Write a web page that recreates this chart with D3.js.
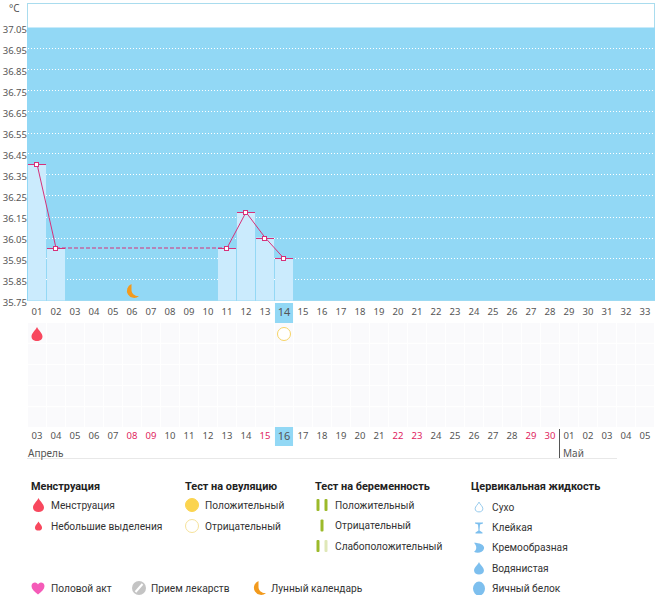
<!DOCTYPE html>
<html>
<head>
    <meta charset="utf-8">
    <title>График БТТ</title>
    <script src="https://d3js.org/d3.v7.min.js"></script>
    <style>
        body { margin: 0; background: #fff; }
        svg { display: block; }
        .axis text { font-family: "Noto Sans", sans-serif; font-size: 9.5px; fill: #555; }
        .legend text { font-family: Roboto, "Noto Sans", sans-serif; font-size: 10.2px; fill: #333; }
        .legend text.title { font-weight: 700; font-size: 10.9px; fill: #222; }
        .month { font-family: "Noto Sans", sans-serif; font-size: 10px; fill: #555; }
    </style>
</head>
<body>
    <svg id="chart" width="663" height="595"></svg>
    <script>
        // Chart data
        const cycleDays = d3.range(1, 34).map(d => String(d).padStart(2, "0"));
        const temps = [36.40, 36.00, null, null, null, null, null, null, null, null, 36.00, 36.17, 36.05, 35.95];
        const tempTicks = [37.05, 36.95, 36.85, 36.75, 36.65, 36.55, 36.45, 36.35, 36.25, 36.15, 36.05, 35.95, 35.85, 35.75];
        const dates = ["03","04","05","06","07","08","09","10","11","12","13","14","15","16","17","18","19","20","21","22","23","24","25","26","27","28","29","30","01","02","03","04","05"];
        const weekendIdx = [5, 6, 12, 19, 20, 26, 27];
        const todayIdx = 13;
        const moonIdx = 5;
        const menstruationIdx = 0;
        const ovulationNegIdx = 13;
        const gridRows = [0, 1, 2, 3, 4];

        const menstruationItems = ["Менструация", "Небольшие выделения"];
        const ovulationItems = ["Положительный", "Отрицательный"];
        const pregnancyItems = ["Положительный", "Отрицательный", "Слабоположительный"];
        const fluidItems = ["Сухо", "Клейкая", "Кремообразная", "Водянистая", "Яичный белок"];
        const otherItems = ["Половой акт", "Прием лекарств", "Лунный календарь"];

        const svg = d3.select("#chart");

        const x = d3.scaleBand().domain(d3.range(33)).range([27.5, 654.5]).paddingInner(0.05).paddingOuter(0.025);
        const y = d3.scaleLinear().domain([35.75, 37.05]).range([300.5, 27.5]);
        const cx = i => x(i) + x.bandwidth() / 2;

        // plot background
        svg.append("rect").attr("x", 27.5).attr("y", 3.5).attr("width", 627).attr("height", 297)
            .attr("fill", "#fff").attr("stroke", "#a9dcee");
        svg.append("rect").attr("x", 27).attr("y", y(37.05)).attr("width", 628).attr("height", y(35.75) - y(37.05))
            .attr("fill", "#92d8f5");

        // dotted grid
        svg.append("g").selectAll("line")
            .data(tempTicks.filter(t => t !== 37.05 && t !== 35.75))
            .enter().append("line")
            .attr("x1", 28).attr("x2", 654)
            .attr("y1", d => Math.round(y(d)) + 0.5).attr("y2", d => Math.round(y(d)) + 0.5)
            .attr("stroke", "#fff").attr("stroke-dasharray", "1,2");

        // bars
        const points = temps.map((t, i) => ({ i, t })).filter(d => d.t !== null);
        svg.append("g").selectAll("rect")
            .data(points)
            .enter().append("rect")
            .attr("x", d => x(d.i))
            .attr("y", d => y(d.t))
            .attr("width", x.bandwidth())
            .attr("height", d => y(35.75) - y(d.t))
            .attr("fill", "#cbebfd");

        // today highlight in the axis rows
        svg.append("rect").attr("x", x(todayIdx)).attr("y", 303).attr("width", x.bandwidth()).attr("height", 20).attr("fill", "#92d8f5");
        svg.append("rect").attr("x", x(todayIdx)).attr("y", 427).attr("width", x.bandwidth()).attr("height", 19).attr("fill", "#92d8f5");

        // left axis
        const yAxis = d3.axisLeft(y).tickValues(tempTicks).tickFormat(d3.format(".2f")).tickSize(0).tickPadding(0);
        svg.append("g").attr("class", "axis").attr("transform", "translate(27,2)").call(yAxis)
            .call(g => g.select(".domain").remove());
        svg.append("text").attr("class", "month").attr("x", 9).attr("y", 12).text("°C");

        // top day axis
        const dayAxis = d3.axisBottom(x).tickFormat(i => cycleDays[i]).tickSize(0).tickPadding(0);
        svg.append("g").attr("class", "axis").attr("transform", "translate(0,308)").call(dayAxis)
            .call(g => g.select(".domain").remove())
            .selectAll("text")
            .style("font-size", i => i === todayIdx ? "11px" : null);

        // bottom date axis
        const dateAxis = d3.axisBottom(x).tickFormat(i => dates[i]).tickSize(0).tickPadding(0);
        svg.append("g").attr("class", "axis").attr("transform", "translate(0,432)").call(dateAxis)
            .call(g => g.select(".domain").remove())
            .selectAll("text").attr("fill", null)
            .style("font-size", i => i === todayIdx ? "11px" : null)
            .style("fill", i => weekendIdx.includes(i) ? "#e0245e" : "#555");

        // symptom grid
        const cellRows = d3.scaleBand().domain(gridRows).range([323, 427]).paddingInner(0.06);
        svg.append("g").selectAll("g")
            .data(gridRows)
            .enter().append("g")
            .selectAll("rect")
            .data(r => d3.range(33).map(i => ({ r, i })))
            .enter().append("rect")
            .attr("x", d => x(d.i))
            .attr("y", d => cellRows(d.r))
            .attr("width", x.bandwidth())
            .attr("height", cellRows.bandwidth())
            .attr("fill", "#fafafc");

        // line
        const solidPairs = d3.pairs(points);
        svg.append("g").selectAll("line")
            .data(solidPairs)
            .enter().append("line")
            .attr("x1", d => cx(d[0].i)).attr("y1", d => y(d[0].t))
            .attr("x2", d => cx(d[1].i)).attr("y2", d => y(d[1].t))
            .attr("stroke", "#d6317a").attr("stroke-width", 1)
            .attr("stroke-dasharray", d => d[1].i - d[0].i > 1 ? "4,2" : null);

        // point caps and markers
        svg.append("g").selectAll("line")
            .data(points)
            .enter().append("line")
            .attr("x1", d => x(d.i)).attr("x2", d => x(d.i) + x.bandwidth())
            .attr("y1", d => Math.round(y(d.t)) + 0.5).attr("y2", d => Math.round(y(d.t)) + 0.5)
            .attr("stroke", "#d6317a");
        svg.append("g").selectAll("rect")
            .data(points)
            .enter().append("rect")
            .attr("x", d => Math.round(cx(d.i)) - 2.5).attr("y", d => Math.round(y(d.t)) - 1.5)
            .attr("width", 4).attr("height", 4)
            .attr("fill", "#fff").attr("stroke", "#d6317a");

        // icons
        function drop(g, px, py, s, color) {
            g.append("path")
                .attr("transform", `translate(${px},${py}) scale(${s})`)
                .attr("d", "M0,-7 C1.5,-3.5 5.5,-1 5.5,2.5 C5.5,5.5 3,7 0,7 C-3,7 -5.5,5.5 -5.5,2.5 C-5.5,-1 -1.5,-3.5 0,-7 Z")
                .attr("fill", color);
        }
        function moon(g, px, py) {
            g.append("path")
                .attr("transform", `translate(${px},${py})`)
                .attr("d", "M-0.5,-7 A7.2,7.2 0 1 0 7,5 C3.5,5.5 -0.5,3 -0.5,-1 C-0.5,-3.5 -0.5,-5.5 -0.5,-7 Z")
                .attr("fill", "#f29a1d");
        }
        function ring(g, px, py, fill, stroke) {
            g.append("circle").attr("cx", px).attr("cy", py).attr("r", 6.5)
                .attr("fill", fill).attr("stroke", stroke).attr("stroke-width", 1);
        }
        function strip(g, px, py, color) {
            g.append("rect").attr("x", px - 1.5).attr("y", py - 6).attr("width", 3).attr("height", 12).attr("rx", 1).attr("fill", color);
        }

        moon(svg, cx(moonIdx), 291);
        drop(svg, cx(menstruationIdx), 334, 1, "#f8485e");
        ring(svg, cx(ovulationNegIdx), 334, "#fff", "#f6d365");

        // month labels
        svg.append("line").attr("x1", 27).attr("x2", 617).attr("y1", 458.5).attr("y2", 458.5).attr("stroke", "#e8e8e8");
        svg.append("line").attr("x1", 559.5).attr("x2", 559.5).attr("y1", 429).attr("y2", 458).attr("stroke", "#555");
        svg.append("text").attr("class", "month").attr("x", 28).attr("y", 457).text("Апрель");
        svg.append("text").attr("class", "month").attr("x", 563).attr("y", 457).text("Май");

        // legend
        const legend = svg.append("g").attr("class", "legend");
        const label = (px, py, s, cls) => legend.append("text").attr("class", cls || null)
            .attr("x", px).attr("y", py).attr("dy", "0.35em").text(s);

        label(31, 486, "Менструация", "title");
        menstruationItems.forEach((s, i) => {
            const py = 505 + i * 21;
            drop(legend, 38.5, py, i === 0 ? 1 : 0.65, "#f8485e");
            label(51, py, s);
        });

        label(185, 486, "Тест на овуляцию", "title");
        ovulationItems.forEach((s, i) => {
            const py = 505 + i * 21;
            ring(legend, 192, py, i === 0 ? "#fbd44f" : "#fff", i === 0 ? "#fbd44f" : "#f6e29a");
            label(205, py, s);
        });

        label(315, 486, "Тест на беременность", "title");
        pregnancyItems.forEach((s, i) => {
            const py = 505 + i * 20.5;
            if (i === 1) {
                strip(legend, 322, py, "#9cba2a");
            } else {
                strip(legend, 318, py, "#9cba2a");
                strip(legend, 326, py, i === 0 ? "#9cba2a" : "#dfe8b8");
            }
            label(335, py, s);
        });

        label(471, 486, "Цервикальная жидкость", "title");
        fluidItems.forEach((s, i) => {
            const py = 507 + i * 20.4;
            const ix = 479;
            if (i === 0) {
                legend.append("path")
                    .attr("transform", `translate(${ix},${py}) scale(0.7)`)
                    .attr("d", "M0,-7 C1.5,-3.5 5.5,-1 5.5,2.5 C5.5,5.5 3,7 0,7 C-3,7 -5.5,5.5 -5.5,2.5 C-5.5,-1 -1.5,-3.5 0,-7 Z")
                    .attr("fill", "#fff").attr("stroke", "#8cc4ea").attr("stroke-width", 1.3);
            } else if (i === 1) {
                legend.append("path")
                    .attr("d", `M${ix - 4},${py - 5} h8 v1 l-3,1 l-0.5,6 l3,2 v1 h-7 v-1 l3,-2 l-0.5,-6 l-3,-1 Z`)
                    .attr("fill", "#7dbfee");
            } else if (i === 2) {
                legend.append("path")
                    .attr("d", `M${ix - 5},${py - 5} C${ix},${py - 5} ${ix + 6},${py - 3} ${ix + 5},${py + 1} C${ix + 4},${py + 5} ${ix - 2},${py + 6} ${ix - 5},${py + 4} C${ix - 2},${py + 2} ${ix - 2},${py - 2} ${ix - 5},${py - 5} Z`)
                    .attr("fill", "#7dbfee");
            } else if (i === 3) {
                drop(legend, ix, py, 0.9, "#7dbfee");
            } else {
                legend.append("ellipse").attr("cx", ix).attr("cy", py).attr("rx", 6).attr("ry", 7).attr("fill", "#7dbfee");
            }
            label(492, py, s);
        });

        // bottom row of the legend
        legend.append("path")
            .attr("transform", "translate(38,588)")
            .attr("d", "M0,6.5 C-4,3.5 -6.5,1 -6.5,-2 C-6.5,-4.5 -4.5,-5.5 -3,-5.5 C-1.5,-5.5 -0.5,-4.5 0,-3.5 C0.5,-4.5 1.5,-5.5 3,-5.5 C4.5,-5.5 6.5,-4.5 6.5,-2 C6.5,1 4,3.5 0,6.5 Z")
            .attr("fill", "#f55bb8");
        label(51, 588, otherItems[0]);
        legend.append("circle").attr("cx", 139).attr("cy", 588).attr("r", 7).attr("fill", "#c4c4c4");
        legend.append("line").attr("x1", 135.5).attr("y1", 592).attr("x2", 142.5).attr("y2", 584)
            .attr("stroke", "#fff").attr("stroke-width", 2);
        label(151, 588, otherItems[1]);
        moon(legend, 259, 588);
        label(271, 588, otherItems[2]);
    </script>
</body>
</html>
